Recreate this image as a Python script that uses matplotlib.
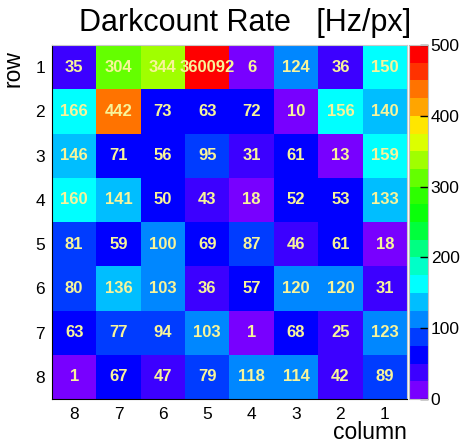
import numpy as np
import matplotlib
matplotlib.use('Agg')
import matplotlib.pyplot as plt
from matplotlib.colors import ListedColormap, BoundaryNorm

plt.rcParams['font.family'] = ['Liberation Sans', 'DejaVu Sans']

# kolommen van links naar rechts, rijen van boven naar onder
columns = [8, 7, 6, 5, 4, 3, 2, 1]
rows = [1, 2, 3, 4, 5, 6, 7, 8]
rates = [
    [35, 304, 344, 360092, 6, 124, 36, 150],
    [166, 442, 73, 63, 72, 10, 156, 140],
    [146, 71, 56, 95, 31, 61, 13, 159],
    [160, 141, 50, 43, 18, 52, 53, 133],
    [81, 59, 100, 69, 87, 46, 61, 18],
    [80, 136, 103, 36, 57, 120, 120, 31],
    [63, 77, 94, 103, 1, 68, 25, 123],
    [1, 67, 47, 79, 118, 114, 42, 89],
]
levels = list(range(0, 525, 25))
cbar_ticks = [0, 100, 200, 300, 400, 500]

# ROOT-achtig palet, 20 banden
band_colors = [
    (120, 0, 255), (60, 0, 255), (0, 0, 255), (0, 60, 255), (0, 135, 255),
    (0, 190, 255), (0, 255, 255), (0, 255, 200), (0, 255, 130), (0, 255, 60),
    (10, 255, 10), (45, 255, 0), (100, 255, 0), (160, 255, 0), (220, 255, 0),
    (255, 230, 0), (255, 165, 0), (255, 115, 0), (255, 50, 0), (255, 0, 0),
]
cmap = ListedColormap([(r / 255, g / 255, b / 255) for r, g, b in band_colors])
cmap.set_over((1, 0, 0))
norm = BoundaryNorm(levels, cmap.N)

data = np.array(rates, dtype=float)

fig = plt.figure(figsize=(4.64, 4.45), dpi=100)
ax = fig.add_axes([52 / 464, 46 / 445, 355 / 464, 354 / 445])
cax = fig.add_axes([409 / 464, 46 / 445, 19 / 464, 354 / 445])

mesh = ax.pcolormesh(np.arange(9), np.arange(9), data, cmap=cmap, norm=norm)
ax.set_xlim(0, 8)
ax.set_ylim(8, 0)

for i in range(len(rows)):
    for j in range(len(columns)):
        ax.text(j + 0.5, i + 0.5, str(rates[i][j]), ha='center', va='center',
                fontsize=12, fontweight='bold', color='#f7f49a')

ax.set_xticks(np.arange(8) + 0.5)
ax.set_xticklabels([str(c) for c in columns])
ax.set_yticks(np.arange(8) + 0.5)
ax.set_yticklabels([str(r) for r in rows])
ax.tick_params(length=0, labelsize=12.5, pad=6)
ax.tick_params(axis='y', pad=5)
for s in ['left', 'bottom']:
    ax.spines[s].set_color('black')
for s in ['top', 'right']:
    ax.spines[s].set_color('#c8c8c8')

cb = fig.colorbar(mesh, cax=cax, ticks=cbar_ticks, extend='neither')
cb.minorticks_off()
cb.ax.tick_params(direction='in', length=6, width=1, labelsize=12.5, pad=2)
cb.outline.set_edgecolor('#c0c0c0')

fig.text(245 / 464, (445 - 31) / 445, 'Darkcount Rate   [Hz/px]',
         fontsize=22, ha='center', va='baseline')
fig.text(25 / 464, (445 - 50) / 445, 'row', rotation=90, fontsize=16.5,
         ha='right', va='top')
fig.text(407 / 464, 1 / 445, 'column', fontsize=16.5, ha='right', va='bottom')

fig.savefig('out.png', dpi=100)
